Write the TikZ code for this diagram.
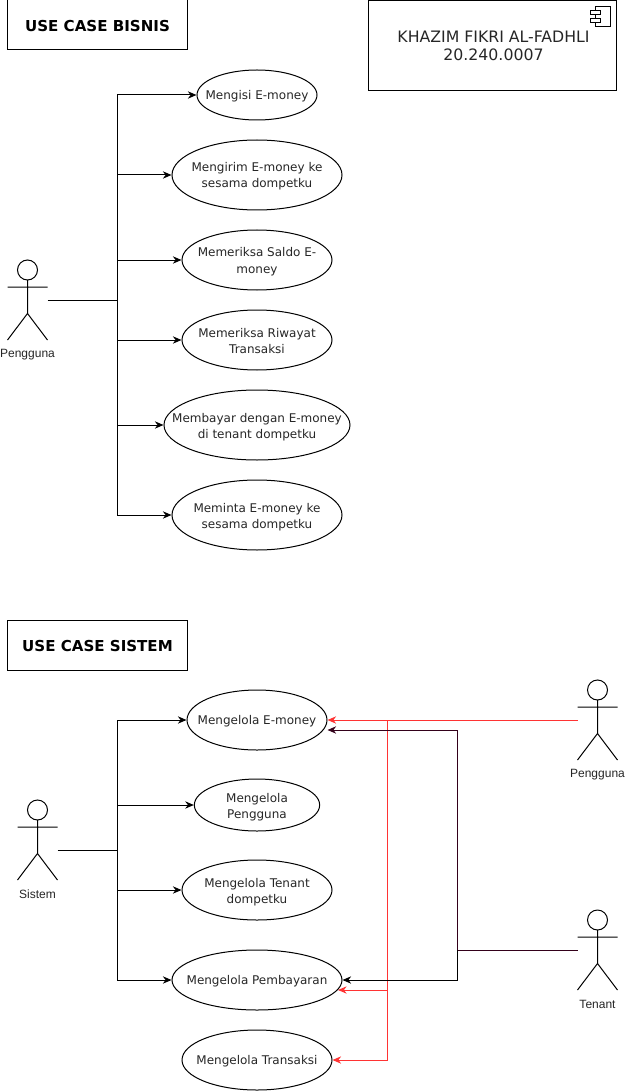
\documentclass[tikz,border=0pt]{standalone}
\usepackage{fontspec}
\setmainfont{DejaVu Sans}
\newfontfamily\actorfont{Liberation Sans}
\usetikzlibrary{arrows.meta,shapes.geometric}
\definecolor{redline}{HTML}{FF3333}
\definecolor{plum}{HTML}{33001A}
\newcommand\lbl[2][-3.6pt]{\makebox[0pt]{\smash{\raisebox{#1}{\begin{tabular}{@{}c@{}}#2\end{tabular}}}}}
\tikzset{
  x=0.75pt,y=-0.75pt,
  uc/.style={draw=black,line width=0.75pt,ellipse,inner sep=0pt,font=\fontsize{9}{12}\selectfont,text=black!85},
  titlebox/.style={draw=black,line width=0.75pt,minimum width=135.5pt,minimum height=37.5pt,inner sep=0pt,font=\fontsize{11.3}{14}\selectfont\bfseries},
  namebox/.style={draw=black,line width=0.75pt,minimum width=186.5pt,minimum height=67.5pt,inner sep=0pt,font=\fontsize{11.8}{13.5}\selectfont,text=black!85},
  link/.style={draw=black,line width=0.75pt,-{Stealth[length=6.5pt,width=5.5pt]}},
  linkplain/.style={draw=black,line width=0.75pt},
  actorlabel/.style={font=\actorfont\fontsize{9}{11}\selectfont,text=black!85,inner sep=0pt},
  pics/actorfig/.style={code={
    \draw[line width=0.75pt] (0,10) circle[radius=10];
    \draw[line width=0.75pt] (0,20) -- (0,53.5) (-20,27) -- (20,27) (-20,80) -- (0,53.5) -- (20,80);
    \coordinate (-left) at (-20,40);
    \coordinate (-right) at (20,40);
    \node[actorlabel] (-label) at (0,94.5) {#1};
  }}
}
\begin{document}
\begin{tikzpicture}
\useasboundingbox (0,0) rectangle (625,1091);
\node[titlebox] (t1) at (97.5,25) {\lbl[-5pt]{USE CASE BISNIS}};
\node[titlebox] (t2) at (97.5,645) {\lbl[-4.6pt]{USE CASE SISTEM}};
\node[namebox] (who) at (492.5,45.5) {\hspace{1.5pt}\lbl[-5pt]{KHAZIM FIKRI AL-FADHLI\\20.240.0007}};
\draw[line width=0.75pt] (595,7) rectangle (610,27);
\draw[line width=0.75pt,fill=white] (590,11) rectangle (600,15);
\draw[line width=0.75pt,fill=white] (590,19) rectangle (600,23);
% business use cases
\pic (ab) at (27.5,260) {actorfig=Pengguna};
\node[uc,minimum width=90pt,minimum height=37.5pt] (b1) at (257,95) {\lbl[-3pt]{Mengisi E-money}};
\node[uc,minimum width=127.5pt,minimum height=52.5pt] (b2) at (257,175) {\lbl{Mengirim E-money ke\\sesama dompetku}};
\node[uc,minimum width=112.5pt,minimum height=45pt] (b3) at (257,260) {\lbl{Memeriksa Saldo E-\\money}};
\node[uc,minimum width=112.5pt,minimum height=45pt] (b4) at (257,340) {\lbl{Memeriksa Riwayat\\Transaksi}};
\node[uc,minimum width=139.5pt,minimum height=52.5pt] (b5) at (257,425) {\lbl{Membayar dengan E-money\\di tenant dompetku}};
\node[uc,minimum width=127.5pt,minimum height=52.5pt] (b6) at (257,515) {\lbl{Meminta E-money ke\\sesama dompetku}};
\coordinate (bj) at (117.5,300);
\draw[linkplain] (ab-right) -- (bj);
\foreach \n in {b1,b2,b3,b4,b5,b6}{\draw[link] (bj) -- (bj |- \n.west) -- (\n.west);}
% system use cases
\pic (as) at (37.5,800) {actorfig=Sistem};
\pic (ap) at (597.5,680) {actorfig=Pengguna};
\pic (at) at (597.5,910) {actorfig=Tenant};
\node[uc,minimum width=105pt,minimum height=45pt] (s1) at (257,720) {\lbl[-3pt]{Mengelola E-money}};
\node[uc,minimum width=94pt,minimum height=39pt] (s2) at (257,805) {\lbl{Mengelola\\Pengguna}};
\node[uc,minimum width=112.5pt,minimum height=45pt] (s3) at (257,890) {\lbl{Mengelola Tenant\\dompetku}};
\node[uc,minimum width=127.5pt,minimum height=45pt] (s4) at (257,980) {\lbl[-3pt]{Mengelola Pembayaran}};
\node[uc,minimum width=112.5pt,minimum height=45pt] (s5) at (257,1060) {\lbl[-3pt]{Mengelola Transaksi}};
\coordinate (sj) at (117.5,850);
\draw[linkplain] (as-right |- sj) -- (sj);
\foreach \n in {s1,s2,s3,s4}{\draw[link] (sj) -- (sj |- \n.west) -- (\n.west);}
% right-hand connectors
\coordinate (s1low) at (327.5,730);
\coordinate (s4low) at (338,990);
\coordinate (rj) at (387.5,720);
\coordinate (tj) at (457.5,950);
\draw[link,draw=redline,color=redline] (ap-left) -- (s1.east);
\draw[link,draw=redline,color=redline] (rj) -- (rj |- s4low) -- (s4low);
\draw[link,draw=redline,color=redline] (rj) -- (rj |- s5.east) -- (s5.east);
\draw[linkplain,draw=plum] (at-left) -- (tj);
\draw[link,draw=plum,color=plum] (tj) -- (tj |- s1low) -- (s1low);
\draw[link] (tj) -- (tj |- s4.east) -- (s4.east);
\end{tikzpicture}
\end{document}
